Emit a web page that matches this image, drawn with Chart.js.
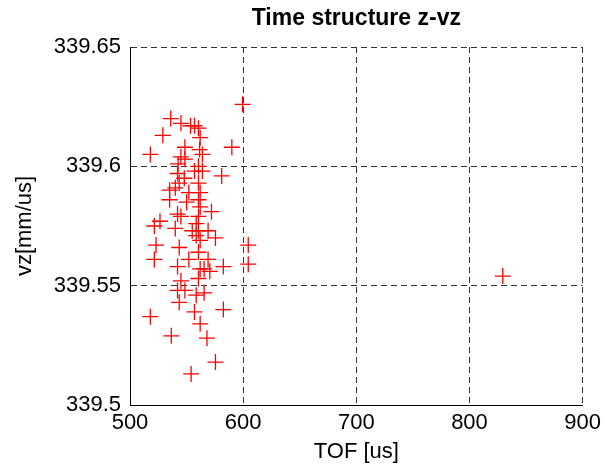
<!DOCTYPE html>
<html>
<head>
<meta charset="utf-8">
<script src="https://cdn.jsdelivr.net/npm/chart.js@4"></script>
<style>
  html, body { margin: 0; padding: 0; background: #fff; }
  #wrap { width: 606px; height: 469px; }
</style>
</head>
<body>
<div id="wrap"><canvas id="tof-chart"></canvas></div>
<script>
// TOF [us] vs vz [mm/us]
const tof = [
  599.5, 829.4, 536, 545, 553.5, 557, 560.5, 562, 529, 518,
  590, 548.5, 561.5, 564, 545, 548.5, 542.5, 560.5, 557, 564,
  581, 542, 548, 560.5, 543.5, 535, 540, 552, 562, 535,
  550, 560.5, 562, 572, 542, 545, 560.5, 526.5, 521.5, 540,
  558.5, 560.5, 555, 569, 558.5, 575.5, 562, 523, 604.5, 543.5,
  560.5, 521.5, 552, 569, 604.5, 582.5, 542, 562, 565.5, 570.5,
  560.5, 545, 548.5, 542, 558.5, 565.5, 543.5, 518, 582.5, 557,
  536.5, 562, 568, 575.5, 554
];
const vz = [
  339.626, 339.554, 339.620, 339.618, 339.617, 339.617, 339.616, 339.612, 339.613, 339.605,
  339.608, 339.608, 339.607, 339.605, 339.604, 339.603, 339.601, 339.600, 339.598, 339.598,
  339.596, 339.597, 339.595, 339.593, 339.593, 339.590, 339.591, 339.589, 339.589, 339.586,
  339.585, 339.586, 339.583, 339.581, 339.580, 339.579, 339.579, 339.577, 339.575, 339.574,
  339.576, 339.573, 339.573, 339.573, 339.571, 339.570, 339.569, 339.567, 339.567, 339.566,
  339.564, 339.561, 339.561, 339.561, 339.559, 339.558, 339.558, 339.557, 339.557, 339.556,
  339.553, 339.552, 339.548, 339.548, 339.546, 339.547, 339.543, 339.537, 339.540, 339.539,
  339.529, 339.534, 339.528, 339.518, 339.513
];
const xRange = [500, 900];
const yRange = [339.5, 339.65];

const FONT = "Arial, 'Liberation Sans', sans-serif";

// MATLAB-style title above the axes
const titlePlugin = {
  id: "plotTitle",
  afterDraw(chart) {
    const { ctx, chartArea } = chart;
    ctx.save();
    ctx.font = "bold 23px " + FONT;
    ctx.fillStyle = "#000";
    ctx.textAlign = "center";
    ctx.textBaseline = "middle";
    ctx.fillText("Time structure z-vz", (chartArea.left + chartArea.right) / 2, 19);
    ctx.restore();
  },
};

const gridStyle = {
  color: "#333",
  lineWidth: 1,
  drawTicks: false,
};

new Chart(document.getElementById("tof-chart"), {
  type: "scatter",
  data: {
    datasets: [
      {
        data: tof.map((t, i) => ({ x: t, y: vz[i] })),
        pointStyle: "cross",
        pointRadius: 8,
        pointHoverRadius: 8,
        pointBorderWidth: 1.3,
        pointBorderColor: "#ff0000",
        pointBackgroundColor: "#ff0000",
        borderColor: "#ff0000",
        backgroundColor: "#ff0000",
      },
    ],
  },
  options: {
    responsive: true,
    maintainAspectRatio: false,
    animation: false,
    events: [],
    layout: { padding: { top: 47, right: 17, left: 12, bottom: 4 } },
    plugins: {
      legend: { display: false },
      tooltip: { enabled: false },
    },
    scales: {
      x: {
        type: "linear",
        min: xRange[0],
        max: xRange[1],
        ticks: { stepSize: 100, padding: 5, color: "#000", font: { family: FONT, size: 22 } },
        grid: gridStyle,
        border: { color: "#000", width: 1, dash: [6, 4] },
        title: {
          display: true,
          text: "TOF [us]",
          color: "#000",
          padding: 0,
          font: { family: FONT, size: 22 },
        },
        afterFit(scale) { scale.height = 60; },
      },
      y: {
        type: "linear",
        min: yRange[0],
        max: yRange[1],
        ticks: {
          stepSize: 0.05,
          padding: 9,
          color: "#000",
          font: { family: FONT, size: 22 },
          callback: (v) => String(+v.toFixed(2)),
        },
        grid: gridStyle,
        border: { color: "#000", width: 1, dash: [6, 4] },
        title: {
          display: true,
          text: "vz[mm/us]",
          color: "#000",
          padding: 0,
          font: { family: FONT, size: 22 },
        },
        afterFit(scale) { scale.width = 118; },
      },
    },
  },
  plugins: [titlePlugin],
});
</script>
</body>
</html>
